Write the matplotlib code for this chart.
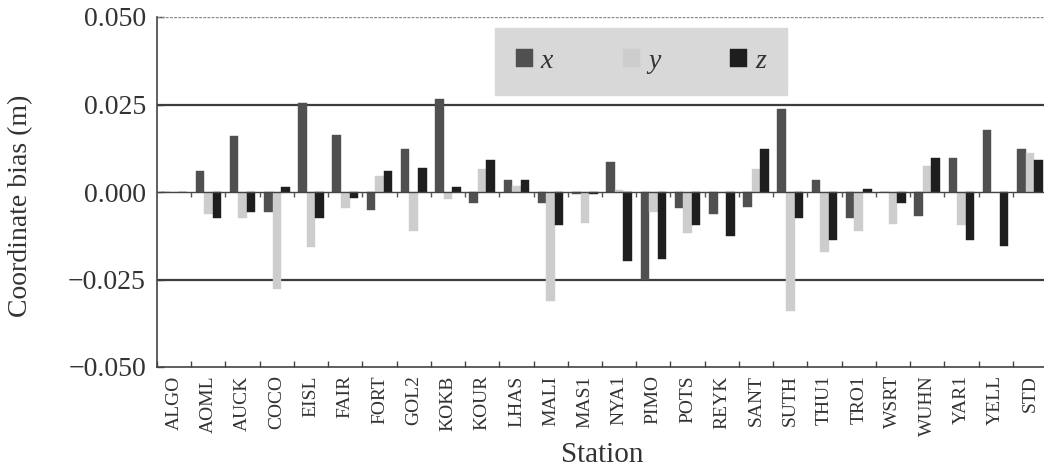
import matplotlib
matplotlib.use("Agg")
import matplotlib.pyplot as plt
import numpy as np

stations = ["ALGO", "AOML", "AUCK", "COCO", "EISL", "FAIR", "FORT", "GOL2", "KOKB",
            "KOUR", "LHAS", "MALI", "MAS1", "NYA1", "PIMO", "POTS", "REYK", "SANT",
            "SUTH", "THU1", "TRO1", "WSRT", "WUHN", "YAR1", "YELL", "STD"]
bias_x = [0.0, 0.0060, 0.0160, -0.0056, 0.0253, 0.0162, -0.0050, 0.0122, 0.0265,
          -0.0030, 0.0033, -0.0030, -0.0005, 0.0087, -0.0250, -0.0045, -0.0063, -0.0044,
          0.0238, 0.0033, -0.0073, 0.0, -0.0069, 0.0096, 0.0176, 0.0122]
bias_y = [0.0, -0.0064, -0.0073, -0.0278, -0.0156, -0.0045, 0.0046, -0.0111, -0.0021,
          0.0065, 0.0017, -0.0311, -0.0088, 0.0005, -0.0056, -0.0116, 0.0, 0.0065,
          -0.0340, -0.0170, -0.0110, -0.0092, 0.0074, -0.0094, 0.0, 0.0112]
bias_z = [0.0, -0.0073, -0.0056, 0.0014, -0.0073, -0.0018, 0.0060, 0.0068, 0.0014,
          0.0091, 0.0033, -0.0094, -0.0005, -0.0197, -0.0192, -0.0094, -0.0126, 0.0122,
          -0.0073, -0.0138, 0.0008, -0.0030, 0.0096, -0.0138, -0.0154, 0.0091]
series_names = ["x", "y", "z"]
yticks = [-0.050, -0.025, 0.000, 0.025, 0.050]
ytick_labels = ["\u22120.050", "\u22120.025", "0.000", "0.025", "0.050"]

colors = ["#505050", "#cdcdcd", "#1e1e1e"]
serif = ["Liberation Serif", "DejaVu Serif"]
plt.rcParams["font.family"] = serif

fig = plt.figure(figsize=(10.44, 4.72), dpi=100)
ax = fig.add_axes([157 / 1044, 105 / 472, 890 / 1044, 350 / 472])

n = len(stations)
idx = np.arange(n)
w = 0.25
for k, (vals, name) in enumerate(zip([bias_x, bias_y, bias_z], series_names)):
    ax.bar(idx + (k - 1) * w, vals, width=w, color=colors[k], label=name,
           edgecolor=colors[k], linewidth=0.3, zorder=3)

ax.set_xlim(-0.5, n - 0.5)
ax.set_ylim(-0.05, 0.05)

# reference lines
for yv in (0.025, -0.025):
    ax.axhline(yv, color="#3c3c3c", lw=1.6, zorder=2)
ax.axhline(0.0, color="#444444", lw=1.0, zorder=4)
ax.axhline(0.05, color="#8a8a8a", lw=1.0, ls=(0, (2, 1)), zorder=2)
ax.vlines(idx[1:] - 0.5, -0.0014, 0.0, color="#555555", lw=1.0, zorder=4)

for s in ("top", "right"):
    ax.spines[s].set_visible(False)
for s in ("left", "bottom"):
    ax.spines[s].set_color("#444444")
    ax.spines[s].set_linewidth(1.2)

ax.set_yticks(yticks)
ax.set_yticklabels(ytick_labels)
ax.tick_params(axis="y", direction="in", length=5, width=1, colors="#444444",
               labelsize=20, labelcolor="#333333", pad=8)

ax.set_xticks(idx)
ax.set_xticklabels(stations, rotation=90)
ax.set_xticks(np.arange(n + 1) - 0.5, minor=True)
ax.tick_params(axis="x", which="major", length=0, labelsize=14, labelcolor="#333333", pad=6)
ax.tick_params(axis="x", which="minor", direction="in", length=4, width=1, colors="#444444")

ax.set_ylabel("Coordinate bias (m)", fontsize=20, color="#333333")
ax.yaxis.set_label_coords(21 / 1044, (472 - 206) / 472, transform=fig.transFigure)
ax.yaxis.label.set_va("center")
fig.text((157 + 1047) / 2 / 1044, 4 / 472, "Station", ha="center", va="bottom",
         fontsize=21, color="#333333")

leg = ax.legend(ncol=3, loc="center",
                bbox_to_anchor=(495 / 1044, 380 / 472, 292 / 1044, 61 / 472),
                bbox_transform=fig.transFigure, mode="expand", borderaxespad=0,
                frameon=True, fancybox=False, facecolor="#d8d8d8", edgecolor="#d8d8d8",
                framealpha=1, borderpad=0.75, handlelength=0.6, handleheight=0.6,
                handletextpad=0.3, prop={"family": serif, "style": "italic", "size": 20})
for t in leg.get_texts():
    t.set_color("#333333")

fig.savefig("out.png", dpi=100)
